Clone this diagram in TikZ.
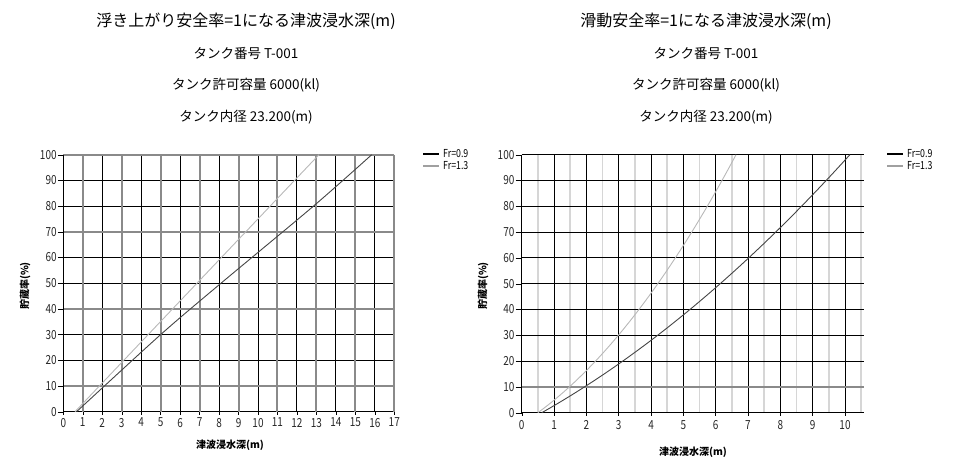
\documentclass[tikz,border=0pt]{standalone}
\usepackage{fontspec}
\setmainfont{Noto Sans CJK JP}
\newfontfamily\narrowfont{Noto Sans CJK JP}[FakeStretch=0.8]
\usepackage{xcolor}
\usepackage{tikz}

\definecolor{curvedark}{HTML}{454545}
\definecolor{curvelight}{HTML}{B8B8B8}
\definecolor{gridgray}{HTML}{8A8A8A}
\definecolor{gridlight}{HTML}{D6D6D6}
\definecolor{legendgray}{HTML}{A0A0A0}

\tikzset{
  titletext/.style={font=\fontsize{16}{18}\selectfont},
  subtext/.style={font=\fontsize{13.5}{16}\selectfont},
  ticklab/.style={font=\narrowfont\fontsize{12.5}{13}\selectfont, text=black!85, inner sep=1pt},
  axistitle/.style={font=\fontsize{10}{11}\selectfont\bfseries},
  legendtext/.style={font=\narrowfont\fontsize{11}{12}\selectfont, anchor=west, inner sep=1pt},
  gridline/.style={black, line width=1pt},
  gridthick/.style={gridgray, line width=2pt},
  gridminor/.style={gridlight, line width=1.5pt},
}

\begin{document}
\begin{tikzpicture}[x=1pt,y=-1pt]
\useasboundingbox (0,0) rectangle (955,459);

% left titles
\node[titletext] (ltitle) at (246,21) {浮き上がり安全率=1になる津波浸水深(m)};
\node[subtext] (lno) at (246,53) {タンク番号 T-001};
\node[subtext] (lcap) at (246,85) {タンク許可容量 6000(kl)};
\node[subtext] (ldia) at (246,117) {タンク内径 23.200(m)};

% right titles
\node[titletext] (rtitle) at (706,21) {滑動安全率=1になる津波浸水深(m)};
\node[subtext] (rno) at (706,53) {タンク番号 T-001};
\node[subtext] (rcap) at (706,85) {タンク許可容量 6000(kl)};
\node[subtext] (rdia) at (706,117) {タンク内径 23.200(m)};

% left chart
\begin{scope}[shift={(63.3,411.7)}, x=19.47pt, y=2.57pt]
  \foreach \v in {0,20,30,50,60,80,90}
    \draw[gridline] (0,\v) -- (17,\v);
  \foreach \u in {0,2,...,16}
    \draw[gridline] (\u,0) -- (\u,100);
  \foreach \u in {1,3,...,17}
    \draw[gridthick] (\u,0) -- (\u,100);
  \foreach \v in {10,40,70,100}
    \draw[gridthick] (0,\v) -- (17,\v);
  \draw[gridline] (0,0) -- (0,100);
  \foreach \v in {0,10,...,100} {
    \draw (-0.28,\v) -- (0,\v);
    \node[ticklab, anchor=east] (lly\v) at (-0.28,\v) {\v};
  }
  \foreach \u in {0,...,17} {
    \draw (\u,0) -- (\u,-1.2);
    \node[ticklab, anchor=north] (llx\u) at (\u,-2.0) {\u};
  }
  % curves
  \draw[curvedark, line width=0.9pt] plot[smooth] coordinates
    {(0.68,0) (5.0,30) (8.1,50) (12.85,80) (15.84,100)};
  \draw[curvelight, line width=0.9pt] (0.6,0) -- (13.13,100);
\end{scope}

\node[axistitle] (lxt) at (230,445) {津波浸水深(m)};
\node[axistitle, rotate=90] (lyt) at (25,286) {貯蔵率(\%)};

% left legend
\draw[black, line width=2pt] (423,154) -- (439,154);
\node[legendtext] (llg1) at (442,154) {Fr=0.9};
\draw[legendgray, line width=1.5pt] (423,166) -- (439,166);
\node[legendtext] (llg2) at (442,166) {Fr=1.3};

% right chart
\begin{scope}[shift={(521.7,412.7)}, x=32.33pt, y=2.58pt]
  \foreach \u in {0.5,1.5,...,10.5}
    \draw[gridminor] (\u,0) -- (\u,100);
  \foreach \u in {0,...,10}
    \draw[gridline] (\u,0) -- (\u,100);
  \foreach \v in {0,20,30,...,100}
    \draw[gridline] (0,\v) -- (10.6,\v);
  \draw[gridthick] (0,10) -- (10.6,10);
  \foreach \v in {0,10,...,100} {
    \draw (-0.19,\v) -- (0,\v);
    \node[ticklab, anchor=east] (rly\v) at (-0.19,\v) {\v};
  }
  \foreach \u in {0,...,10} {
    \draw (\u,0) -- (\u,-1.2);
    \node[ticklab, anchor=north] (rlx\u) at (\u,-2.4) {\u};
  }
  % curves
  \draw[curvedark, line width=0.9pt, domain=0.62:10.15, samples=40]
    plot (\x, {7.09*(\x-0.62)+0.357*(\x-0.62)^2});
  \draw[curvelight, line width=0.9pt, domain=0.5:6.63, samples=40]
    plot (\x, {9.13*(\x-0.5)+1.172*(\x-0.5)^2});
\end{scope}

\node[axistitle] (rxt) at (693,452) {津波浸水深(m)};
\node[axistitle, rotate=90] (ryt) at (483,286) {貯蔵率(\%)};

% right legend
\draw[black, line width=2pt] (887,154) -- (903,154);
\node[legendtext] (rlg1) at (906,154) {Fr=0.9};
\draw[legendgray, line width=1.5pt] (887,166) -- (903,166);
\node[legendtext] (rlg2) at (906,166) {Fr=1.3};

\end{tikzpicture}
\end{document}
